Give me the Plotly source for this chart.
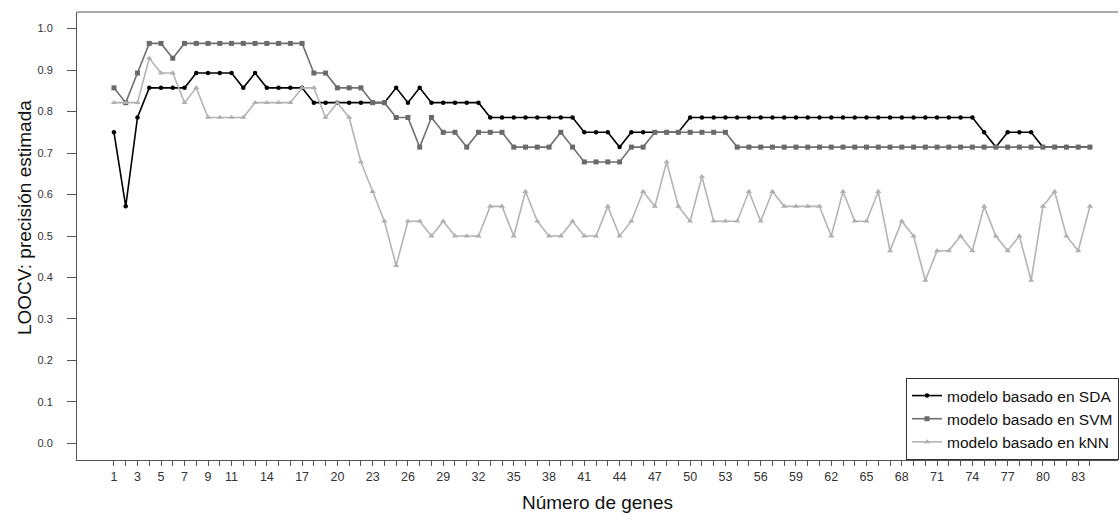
import plotly.graph_objects as go

n_genes = list(range(1, 85))

sda = [21, 16, 22, 24, 24, 24, 24, 25, 25, 25, 25, 24, 25, 24, 24, 24, 24,
       23, 23, 23, 23, 23, 23, 23, 24, 23, 24, 23, 23, 23, 23, 23,
       22, 22, 22, 22, 22, 22, 22, 22, 21, 21, 21, 20, 21, 21, 21, 21, 21,
       22, 22, 22, 22, 22, 22, 22, 22, 22, 22, 22, 22, 22, 22, 22, 22, 22,
       22, 22, 22, 22, 22, 22, 22, 22, 21, 20, 21, 21, 21, 20, 20, 20, 20, 20]

svm = [24, 23, 25, 27, 27, 26, 27, 27, 27, 27, 27, 27, 27, 27, 27, 27, 27,
       25, 25, 24, 24, 24, 23, 23, 22, 22, 20, 22, 21, 21, 20, 21, 21, 21,
       20, 20, 20, 20, 21, 20, 19, 19, 19, 19, 20, 20, 21, 21, 21, 21, 21, 21, 21,
       20, 20, 20, 20, 20, 20, 20, 20, 20, 20, 20, 20, 20, 20, 20, 20, 20,
       20, 20, 20, 20, 20, 20, 20, 20, 20, 20, 20, 20, 20, 20]

knn = [23, 23, 23, 26, 25, 25, 23, 24, 22, 22, 22, 22, 23, 23, 23, 23, 24, 24,
       22, 23, 22, 19, 17, 15, 12, 15, 15, 14, 15, 14, 14, 14, 16, 16, 14, 17,
       15, 14, 14, 15, 14, 14, 16, 14, 15, 17, 16, 19, 16, 15, 18, 15, 15, 15,
       17, 15, 17, 16, 16, 16, 16, 14, 17, 15, 15, 17, 13, 15, 14, 11, 13, 13,
       14, 13, 16, 14, 13, 14, 11, 16, 17, 14, 13, 16]

n_samples = 28

labeled_ticks = [1, 3, 5, 7, 9, 11, 14, 17, 20, 23, 26, 29, 32, 35, 38, 41, 44,
                 47, 50, 53, 56, 59, 62, 65, 68, 71, 74, 77, 80, 83]
y_ticks = [0.0, 0.1, 0.2, 0.3, 0.4, 0.5, 0.6, 0.7, 0.8, 0.9, 1.0]

series_names = ["modelo basado en SDA", "modelo basado en SVM", "modelo basado en kNN"]
x_title = "Número de genes"
y_title = "LOOCV: precisión estimada"

def frac(v):
    return [x / n_samples for x in v]

fig = go.Figure()
fig.add_trace(go.Scatter(x=n_genes, y=frac(sda), mode="lines+markers",
                         name=series_names[0],
                         line=dict(color="#000000", width=1.6),
                         marker=dict(symbol="circle", size=4.5, color="#000000")))
fig.add_trace(go.Scatter(x=n_genes, y=frac(svm), mode="lines+markers",
                         name=series_names[1],
                         line=dict(color="#707070", width=1.6),
                         marker=dict(symbol="square", size=5, color="#6a6a6a")))
fig.add_trace(go.Scatter(x=n_genes, y=frac(knn), mode="lines+markers",
                         name=series_names[2],
                         line=dict(color="#b4b4b4", width=1.6),
                         marker=dict(symbol="triangle-up", size=5.5, color="#b0b0b0")))

tick_text = [str(i) if i in labeled_ticks else "" for i in n_genes]

PL, PR, PT, PB = 77, 1119, 12, 460
W, H = 1119, 521

fig.update_layout(
    width=W, height=H,
    margin=dict(l=PL, r=W - PR, t=PT, b=H - PB),
    paper_bgcolor="white", plot_bgcolor="white",
    font=dict(family="Liberation Sans, Arial, sans-serif", color="#222"),
    showlegend=True,
    legend=dict(x=(907 - PL) / (PR - PL), y=0,
                xanchor="left", yanchor="bottom",
                bordercolor="#333", borderwidth=1, bgcolor="white",
                font=dict(size=15.5, color="#111"),
                tracegroupgap=0, itemwidth=30),
    xaxis=dict(range=[1 + (PL - 114) / 11.77, 1 + (PR - 114) / 11.77],
               automargin=False,
               tickvals=n_genes, ticktext=tick_text,
               ticks="outside", ticklen=5, tickcolor="#555", tickwidth=1,
               showline=True, linecolor="#555", linewidth=1,
               showgrid=False, zeroline=False,
               tickfont=dict(size=12.5, color="#333"),
               title=dict(text=x_title, font=dict(size=19, color="#111"),
                          standoff=12)),
    yaxis=dict(range=[-0.04, 1.04],
               automargin=False,
               tickvals=y_ticks, tickformat=".1f",
               ticks="outside", ticklen=9, tickcolor="#555", tickwidth=1,
               ticklabelstandoff=12,
               showline=True, linecolor="#555", linewidth=1,
               showgrid=False, zeroline=False,
               tickfont=dict(size=11, color="#333")),
    annotations=[dict(text=y_title, textangle=-90, xref="paper", yref="paper",
                      x=0, y=(PB - 218) / (PB - PT), xanchor="center", yanchor="middle",
                      xshift=24 - PL, showarrow=False,
                      font=dict(size=19, color="#111"))],
    shapes=[dict(type="line", xref="paper", yref="paper", x0=0, x1=1, y0=1, y1=1,
                 line=dict(color="#555", width=1))],
)

fig.write_html("out.html",
               config={"displayModeBar": False},
               post_script="document.body.style.margin='0';document.body.style.overflow='hidden';")
